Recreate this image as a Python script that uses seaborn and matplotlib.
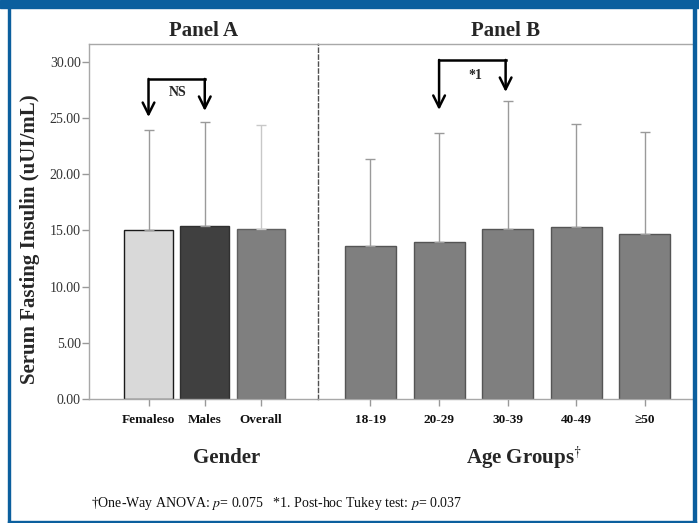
import matplotlib
matplotlib.use("Agg")
import matplotlib.pyplot as plt
import seaborn as sns
import numpy as np
from matplotlib.patches import Rectangle

# Data
gender_labels = ["Femaleso", "Males", "Overall"]
gender_means = [15.04, 15.37, 15.13]
gender_upper = [23.92, 24.63, 24.42]

age_labels = ["18-19", "20-29", "30-39", "40-49", "\u226550"]
age_means = [13.62, 13.99, 15.15, 15.31, 14.70]
age_upper = [21.37, 23.65, 26.53, 24.46, 23.80]

sns.set_theme(style="white")
plt.rcParams["font.family"] = ["Liberation Serif", "DejaVu Serif"]
plt.rcParams["mathtext.fontset"] = "stix"

W, H = 699, 523
fig = plt.figure(figsize=(W / 100, H / 100), dpi=100)
fig.patch.set_facecolor("white")


def px_box(x0, y0, x1, y1):
    # pixel box (top-left origin) -> figure fraction rect
    return [x0 / W, 1 - y1 / H, (x1 - x0) / W, (y1 - y0) / H]


ax_a = fig.add_axes(px_box(89, 44, 318, 399))
ax_b = fig.add_axes(px_box(318, 44, 694, 399))

YMAX = 31.6
grey_line = "#a8a8a8"

# Panel A
sns.barplot(x=gender_labels, y=gender_means, hue=gender_labels,
            palette=["#d9d9d9", "#404040", "#7f7f7f"], saturation=1,
            width=0.87, legend=False, ax=ax_a)
for patch, ec in zip(ax_a.patches, ["#1a1a1a", "#303030", "#606060"]):
    patch.set_edgecolor(ec)
    patch.set_linewidth(1)
err_a = np.array(gender_upper) - np.array(gender_means)
for i, (m, e, c) in enumerate(zip(gender_means, err_a, ["#9a9a9a", "#9a9a9a", "#c8c8c8"])):
    ax_a.errorbar(i, m, yerr=[[0], [e]], fmt="none", ecolor=c,
                  elinewidth=1, capsize=3.6, capthick=1, zorder=1)

# Panel B
sns.barplot(x=age_labels, y=age_means, color="#7f7f7f", saturation=1,
            width=0.745, ax=ax_b)
for patch in ax_b.patches:
    patch.set_edgecolor("#555555")
    patch.set_linewidth(1)
err_b = np.array(age_upper) - np.array(age_means)
ax_b.errorbar(range(len(age_labels)), age_means, yerr=[np.zeros(len(err_b)), err_b],
              fmt="none", ecolor="#9a9a9a", elinewidth=1, capsize=3.6,
              capthick=1, zorder=1)

ax_a.set_xlim(-1.058, 3.013)
ax_b.set_xlim(-0.765, 4.716)
for ax in (ax_a, ax_b):
    ax.set_ylim(0, YMAX)
    ax.set_facecolor("white")
    ax.spines["top"].set_color(grey_line)
    ax.spines["bottom"].set_color(grey_line)
    ax.spines["left"].set_color(grey_line)
    for s in ax.spines.values():
        s.set_linewidth(1)
    ax.tick_params(axis="x", bottom=True, length=5, width=1, color="#999999",
                   direction="out", pad=6)
    for lab in ax.get_xticklabels():
        lab.set_fontweight("bold")
        lab.set_fontsize(9.5)
        lab.set_color("#111111")

# dashed divider between the panels
ax_a.spines["right"].set_visible(False)
ax_b.spines["left"].set_linestyle((0, (3, 2)))
ax_b.spines["left"].set_color("#505050")
ax_b.spines["right"].set_visible(False)

ax_a.set_yticks(np.arange(0, 31, 5))
ax_a.set_yticklabels([f"{v:.2f}" for v in np.arange(0, 31, 5)],
                     fontsize=10, color="#333333")
ax_a.tick_params(axis="y", left=True, length=5, width=1, color="#999999",
                 direction="out", pad=1)
ax_b.set_yticks([])

ax_a.set_title("Panel A", fontsize=15, fontweight="bold", pad=6)
ax_b.set_title("Panel B", fontsize=15, fontweight="bold", pad=6)

ax_a.set_xlabel("Gender", fontsize=15, fontweight="bold", va="center")
ax_a.xaxis.set_label_coords(0.603, -0.165)
ax_b.set_xlabel("Age Groups$^{\u2020}$", fontsize=15, fontweight="bold", va="center")
ax_b.xaxis.set_label_coords(0.548, -0.165)
ax_a.set_ylabel("Serum Fasting Insulin (uUI/mL)", fontsize=15, fontweight="bold",
                va="center")
ax_a.yaxis.set_label_coords(-0.258, 0.45)

# Significance brackets
arrow = dict(arrowstyle="->,head_width=0.35,head_length=0.7", lw=1.8, color="black",
             shrinkA=0, shrinkB=0)

ns_top, ns_left_tip, ns_right_tip = 28.49, 25.1, 25.64
ax_a.plot([0, 1], [ns_top, ns_top], color="black", lw=1.8, solid_capstyle="projecting")
ax_a.annotate("", xy=(0, ns_left_tip), xytext=(0, ns_top), arrowprops=arrow)
ax_a.annotate("", xy=(1, ns_right_tip), xytext=(1, ns_top), arrowprops=arrow)
ax_a.text(0.52, 27.3, "NS", ha="center", va="center", fontsize=10, fontweight="bold")

t_top, t_left_tip, t_right_tip = 30.18, 25.73, 27.33
ax_b.plot([1, 1.97], [t_top, t_top], color="black", lw=1.8, solid_capstyle="projecting")
ax_b.annotate("", xy=(1, t_left_tip), xytext=(1, t_top), arrowprops=arrow)
ax_b.annotate("", xy=(1.97, t_right_tip), xytext=(1.97, t_top), arrowprops=arrow)
ax_b.text(1.53, 28.8, "*1", ha="center", va="center", fontsize=10, fontweight="bold")

# Footnote
fig.text(91 / W, 1 - 503 / H,
         "\u2020One-Way ANOVA: $p$= 0.075   *1. Post-hoc Tukey test: $p$= 0.037",
         fontsize=10, ha="left", va="center", color="#111111")

# Blue frame
blue = "#0b5f9e"
for box in [(0, 0, W, 8), (7.5, 0, 10, H), (693, 0, 695.5, H), (7.5, 520.5, 695.5, 523)]:
    r = px_box(*box)
    fig.patches.append(Rectangle(r[:2], r[2], r[3], transform=fig.transFigure,
                                 color=blue, zorder=10))

fig.savefig("out.png", dpi=100, facecolor="white")
